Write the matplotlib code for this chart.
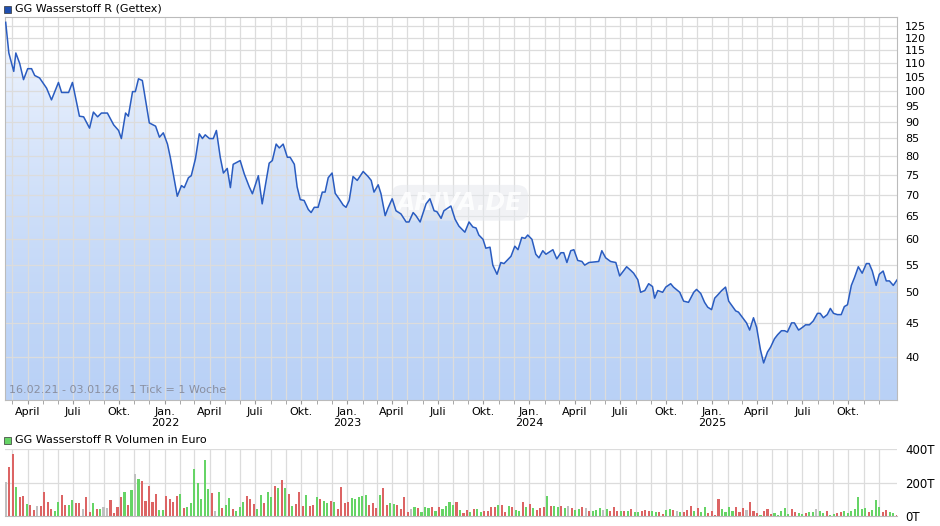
import numpy as np
import matplotlib
matplotlib.use("Agg")
import matplotlib.pyplot as plt
import matplotlib.dates as mdates
from matplotlib.patches import Rectangle
from matplotlib.colors import LinearSegmentedColormap
import datetime as dt

START = dt.date(2021, 2, 16)
END = dt.date(2026, 1, 3)

# price readings: week offset from 16.02.21, price in EUR
weeks = [0.0,0.9,2.3,2.9,4.0,5.1,6.3,7.4,8.3,9.7,11.7,13.1,15.1,16.0,18.0,19.1,20.3,21.1,22.3,24.0,25.1,26.3,27.4,29.1,30.9,32.3,33.1,34.3,35.1,36.3,37.1,38.0,39.1,41.1,42.9,44.0,45.1,46.3,47.1,49.1,50.3,51.1,52.3,53.1,54.3,55.4,56.3,57.1,58.3,59.4,60.3,61.4,62.3,63.4,64.3,65.1,67.1,68.3,69.7,70.6,72.3,73.4,75.4,76.3,77.4,78.3,79.4,80.6,81.4,82.6,83.4,84.3,85.4,86.6,87.4,88.3,89.4,90.6,91.4,92.3,93.4,94.3,95.4,96.6,97.4,98.3,99.4,100.6,102.3,103.7,104.6,105.4,106.6,107.4,108.6,109.4,110.6,111.7,113.1,114.6,115.4,116.6,117.4,118.6,120.3,121.4,122.6,123.4,124.6,125.4,127.4,128.6,129.7,131.4,132.6,133.7,134.6,135.4,136.6,137.4,138.6,139.4,140.6,141.7,142.6,144.6,145.7,146.6,147.7,148.6,149.4,150.6,151.7,152.6,153.7,154.6,156.6,157.7,158.9,159.7,160.6,161.7,162.6,163.7,164.9,165.7,166.9,169.7,170.6,171.7,173.1,174.6,175.7,177.7,178.9,179.7,180.9,181.7,182.9,184.0,185.1,185.7,186.6,188.0,188.9,190.3,191.1,192.3,192.9,194.0,195.4,196.9,197.7,198.9,200.0,200.9,202.0,202.9,203.7,204.9,206.0,206.9,208.0,208.9,209.7,210.9,212.0,212.9,214.0,214.9,216.0,216.9,218.0,218.9,220.0,220.9,222.0,222.9,223.7,224.9,225.7,226.9,228.0,228.9,230.0,231.1,232.3,233.1,234.0,235.1,236.0,236.9,238.0,239.1,240.0,240.9,242.0,242.9,244.0,245.1,246.3,247.1,248.0,249.1,250.0,251.1,252.0,252.9,254.0,255.1]
prices = [126.7,114,107,114,110,104,108,108,105.5,104.6,101,97,103,99.5,99.5,103,96,91.7,91.5,88,93,91.5,92.7,92.7,89,87.3,84.9,92.7,91.7,99.8,99.8,104.3,103.7,89.6,88.6,85.3,86.6,83.3,79.6,69.6,72.2,71.7,74.2,74.7,79.2,86.3,84.9,86,84.9,84.9,87.3,79.6,75.4,76.6,71.7,77.7,78.7,75.1,71.9,70.2,74.7,67.8,78,78.7,83.3,82.2,83.3,79.6,79.6,77.7,71.9,68.8,68.6,66.5,65.8,67,67,70.6,70.6,74.2,75.4,70.3,69,67.5,67,68.6,74.5,73.5,75.8,74.5,73.5,70.6,72.4,70.2,65.1,66.8,69,66.2,65.5,63.7,63.7,65.8,65.1,63.7,67.8,69,66.2,66,64.5,66.2,67.3,64.3,62.8,61.5,63.7,62.6,62.4,60.9,60,58.2,58.4,54.9,53.2,55.4,55.2,56.6,58.6,57.9,60.4,60.2,60.9,60,57,56.3,57.7,57,57.9,56.1,57.3,57.3,55.4,57.7,57.9,55.8,55.6,54.9,55.4,55.6,57.7,56.3,55.6,55.4,52.9,54.6,53.9,53.4,52.2,50,50.3,51.5,51,49,50.3,50,50.9,51.5,50.9,50.3,50,48.5,48.3,50,50.5,49.8,48.3,47.5,47.1,49,49.5,50.3,50.9,48.5,47.6,46.9,46.7,45.8,45,43.9,45.8,44.3,41,39.2,40.7,41.4,42.6,43.2,43.8,43.8,43.6,45,45,43.9,44.3,44.7,44.7,45.3,46.5,46.5,45.8,46.3,47.3,46.5,46.3,46.3,47.6,47.9,51.2,52.6,54.6,53.4,55.2,55.2,53.8,51.2,53.2,53.8,52,52,51.2,52.2]

# weekly volume in thousand EUR and bar colour code (r=down, g=up, n=unchanged)
volume = [206,296,372,176,116,120,72,64,36,60,60,144,84,40,30,84,126,66,66,96,80,80,42,114,24,78,42,40,56,50,94,20,56,112,146,66,156,252,222,212,92,180,84,132,36,36,120,100,84,120,132,50,56,76,282,196,104,336,164,136,30,144,46,66,110,42,30,52,86,120,104,72,44,126,80,144,112,180,168,216,166,132,60,70,144,60,126,62,66,114,104,92,80,92,84,44,174,80,86,110,102,114,120,126,66,80,50,126,168,66,76,72,66,44,112,24,44,54,48,24,54,48,54,30,54,44,60,84,66,84,36,20,36,
          22,39,39,22,27,27,51,51,63,63,22,57,51,33,27,86,51,69,45,33,45,51,122,57,57,51,57,45,57,45,33,39,51,45,27,27,33,45,33,39,27,51,27,27,27,27,39,22,22,27,33,27,27,22,22,10,33,39,33,27,22,22,33,57,27,45,22,51,
          20,31,8,103,43,26,55,31,55,26,49,38,85,31,20,8,31,43,14,20,8,31,49,14,43,26,20,14,20,26,26,43,31,20,31,8,14,20,26,31,20,31,43,114,43,49,26,38,96,55,26,38,26,20,8,14]
vol_dir = ("nrrgrrgrrnrrrrggrrggrrnrrgrgnnrrrrgrgngrrrrrggrrrrgrgggggggrngrggrgggrrrggrggrgrgrgrrrgrrgrggrgrrrrgggggrrrgrrggrrrrngrgggrgrggggrgrrg"
           "rggrrrrgrrgrggrgrgrrrgrggrgnrggrnrgggngrrrgrgrggrrrggrrggrngrrrgrggr"
           "rrrggggrrrnrrrgrrrgggggrrggrggnggrggrrgggggggrgggrrggrngr")

price_tick_vals = [40,45,50,55,60,65,70,75,80,85,90,95,100,105,110,115,120,125]
vol_tick_vals = [0, 200, 400]
vol_tick_labels = ["0T", "200T", "400T"]
month_names = {1: "Jan.", 4: "April", 7: "Juli", 10: "Okt."}

start_num = mdates.date2num(START)
end_num = mdates.date2num(END)
xs = start_num + 7 * np.array(weeks)
prices = np.array(prices)
vol_x = start_num + 7 * np.arange(len(volume))

GRID = "#dcdcdc"
fig = plt.figure(figsize=(9.4, 5.26), dpi=100)
fig.patch.set_facecolor("white")
ax = fig.add_axes([0.005, 0.2395, 0.949, 0.728])
axv = fig.add_axes([0.005, 0.019, 0.949, 0.127])

xlim = (start_num - 2, end_num + 3)
ymin, ymax = 34.5, 129
ax.set_yscale("log")
ax.set_xlim(*xlim)
ax.set_ylim(ymin, ymax)

grad = np.linspace(0, 1, 256).reshape(-1, 1)
cmap = LinearSegmentedColormap.from_list("g", ["#b9d1f6", "#f6f9ff"])
im = ax.imshow(grad, aspect="auto", cmap=cmap, origin="lower",
               extent=[xlim[0], xlim[1], ymin, ymax], zorder=1)
poly = ax.fill_between(xs, prices, ymin, color="none", zorder=1)
im.set_clip_path(poly.get_paths()[0], transform=ax.transData)
ax.plot(xs, prices, color="#2a5cc0", lw=1.1, zorder=3)

months = []
d = dt.date(2021, 3, 1)
while d <= END - dt.timedelta(days=5):
    months.append(mdates.date2num(d))
    d = dt.date(d.year + (d.month // 12), d.month % 12 + 1, 1)
for m in months:
    ax.axvline(m, color=GRID, lw=0.9, zorder=2)
    axv.axvline(m, color=GRID, lw=0.9, zorder=0)
for v in price_tick_vals:
    ax.axhline(v, color=GRID, lw=0.9, zorder=2)

ax.yaxis.tick_right()
ax.set_yticks(price_tick_vals)
ax.set_yticklabels([str(v) for v in price_tick_vals])
ax.yaxis.set_minor_locator(matplotlib.ticker.NullLocator())
ax.tick_params(axis="y", length=0, labelsize=8, pad=6)

qt, ql = [], []
for m in months:
    dd = mdates.num2date(m)
    if dd.month in month_names:
        qt.append(m)
        ql.append(month_names[dd.month] + (f"\n{dd.year}" if dd.month == 1 else ""))
ax.set_xticks(qt)
ax.set_xticklabels(ql, fontsize=8, linespacing=1.1)
ax.set_xticks(months, minor=True)
ax.tick_params(axis="x", which="both", length=3, color="#999999", pad=2)
for s in ax.spines.values():
    s.set_color("#bbbbbb")

ax.text(0.005, 0.012, "16.02.21 - 03.01.26   1 Tick = 1 Woche", transform=ax.transAxes,
        fontsize=8, color="#8a8fa0", va="bottom", zorder=4)
ax.text(0.51, 0.515, "ARIVA.DE", transform=ax.transAxes, fontsize=17, color="white",
        alpha=0.85, fontweight="bold", style="italic", ha="center", va="center", zorder=2,
        bbox=dict(boxstyle="round,pad=0.25,rounding_size=0.5", facecolor="#e6e9ee",
                  edgecolor="none", alpha=0.55))

cmapc = {"r": "#dc6464", "g": "#66d466", "n": "#c0c0c0"}
axv.bar(vol_x, volume, width=7 * 0.6, color=[cmapc[c] for c in vol_dir], zorder=2)
axv.set_xlim(*xlim)
axv.set_ylim(0, 400)
for v in vol_tick_vals[1:]:
    axv.axhline(v, color=GRID, lw=0.9, zorder=0)
axv.yaxis.tick_right()
axv.set_yticks(vol_tick_vals)
axv.set_yticklabels(vol_tick_labels)
axv.tick_params(axis="y", length=0, labelsize=8.5, pad=6)
axv.set_xticks([])
for k, s in axv.spines.items():
    s.set_visible(k == "bottom")
axv.spines["bottom"].set_color("#bbbbbb")

fig.patches.append(Rectangle((0.004, 0.976), 0.0075, 0.0135, transform=fig.transFigure,
                             facecolor="#1f4fb0", edgecolor="#333333", lw=0.5))
fig.text(0.016, 0.983, "GG Wasserstoff R (Gettex)", fontsize=8, va="center")
fig.patches.append(Rectangle((0.004, 0.156), 0.0075, 0.0135, transform=fig.transFigure,
                             facecolor="#66d466", edgecolor="#333333", lw=0.5))
fig.text(0.016, 0.163, "GG Wasserstoff R Volumen in Euro", fontsize=8, va="center")

fig.savefig("out.png", dpi=100)
